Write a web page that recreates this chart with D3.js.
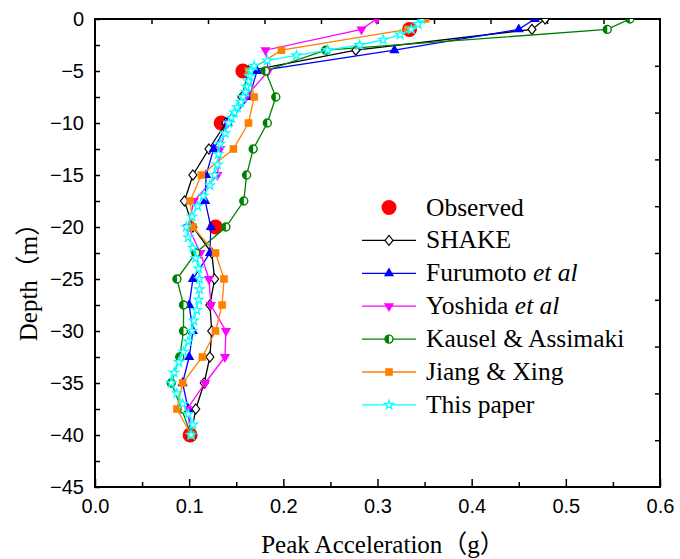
<!DOCTYPE html>
<html><head><meta charset="utf-8">
<script src="https://cdn.jsdelivr.net/npm/d3@7"></script>
<style>body{margin:0;background:#fff}</style>
</head><body><svg id="c" width="680" height="559"></svg>
<script>
// ---- data ----
const stdDepth = [0,-1,-3,-5,-7.5,-10,-12.5,-15,-17.5,-20,-22.5,-25,-27.5,-30,-32.5,-35,-37.5,-40];
const observedDepth = [-1,-5,-10,-20,-40];
const observedAcc = [0.334,0.157,0.134,0.128,0.101];
const shakeAcc    = [0.478,0.464,0.277,0.163,0.156,0.139,0.121,0.104,0.095,0.104,0.124,0.127,0.122,0.124,0.122,0.116,0.107,0.102];
const furumotoAcc = [0.467,0.450,0.318,0.172,0.164,0.141,0.126,0.118,0.117,0.123,0.122,0.104,0.100,0.104,0.100,0.093,0.099,0.102];
const yoshidaAcc  = [0.299,0.283,0.181,0.184,0.160,0.141,0.133,0.130,0.105,0.099,0.112,0.121,0.123,0.139,0.138,0.117,0.098,0.102];
const kauselAcc   = [0.568,0.544,0.245,0.181,0.192,0.183,0.168,0.161,0.158,0.139,0.107,0.087,0.094,0.094,0.090,0.081,0.092,0.102];
const jiangAcc    = [0.351,0.332,0.198,0.163,0.169,0.163,0.147,0.113,0.101,0.104,0.128,0.137,0.135,0.128,0.114,0.093,0.087,0.102];
const paperDepth = [0,-0.5,-1,-1.5,-2,-2.5,-3,-3.5,-4,-4.5,-5,-5.5,-6,-6.5,-7,-7.5,-8,-8.5,-9,-9.5,-10,
  -11,-12,-13,-14,-15,-16,-17,-18,-19,-20,-21,-22,-23,-24,-25,-26,-27,-28,-29,-30,-31,-32,-33,-34,-35,-36,-37,-38,-39,-40];
const paperAcc = [0.347,0.343,0.336,0.324,0.306,0.281,0.247,0.214,0.183,0.169,0.165,0.164,0.163,0.161,0.160,0.157,0.155,0.151,0.148,0.145,0.142,
  0.138,0.133,0.131,0.130,0.127,0.122,0.115,0.109,0.103,0.097,0.099,0.104,0.107,0.110,0.111,0.111,0.110,0.108,0.105,0.103,0.099,0.094,0.089,0.084,0.081,0.087,0.093,0.099,0.104,0.102];
const seriesNames = ["Observed","SHAKE","Furumoto et al","Yoshida et al","Kausel & Assimaki","Jiang & Xing","This paper"];
const seriesColors = ["#ff0000","#000000","#0000ff","#ff00ff","#008000","#ff8000","#00ffff"];
const xTicks = [0,0.1,0.2,0.3,0.4,0.5,0.6];
const yTicks = [0,-5,-10,-15,-20,-25,-30,-35,-40,-45];

// ---- layout ----
const L=95,R=660,T=19,B=487;
const svg=d3.select("#c");
const x=d3.scaleLinear().domain([0,0.6]).range([L,R]);
const y=d3.scaleLinear().domain([0,-45]).range([T,B]);

svg.append("defs").append("clipPath").attr("id","clip").append("rect")
  .attr("x",L).attr("y",T).attr("width",R-L).attr("height",B-T);

const tickFont="'Liberation Sans', Arial, sans-serif";
const serif="'Liberation Serif','Times New Roman','Noto Sans CJK SC',serif";

// bottom axis
const gx=svg.append("g").attr("transform",`translate(0,${B})`)
  .call(d3.axisBottom(x).tickValues(xTicks).tickFormat(d3.format(".1f")).tickSizeInner(-8).tickSizeOuter(0).tickPadding(12));
const gxm=svg.append("g").attr("transform",`translate(0,${B})`)
  .call(d3.axisBottom(x).tickValues(d3.range(0.05,0.6,0.1)).tickFormat("").tickSizeInner(-5).tickSizeOuter(0));
// left axis
const gy=svg.append("g").attr("transform",`translate(${L},0)`)
  .call(d3.axisLeft(y).tickValues(yTicks).tickFormat(d3.format("d")).tickSizeInner(-5).tickSizeOuter(0).tickPadding(11));
const gym=svg.append("g").attr("transform",`translate(${L},0)`)
  .call(d3.axisLeft(y).tickValues(d3.range(-2.5,-45,-5)).tickFormat("").tickSizeInner(-5).tickSizeOuter(0));
// top axis & right axis (10 divisions)
const gt=svg.append("g").attr("transform",`translate(0,${T})`)
  .call(d3.axisTop(x).tickValues(d3.range(1,10).map(i=>i*0.06)).tickFormat("").tickSizeInner(-5).tickSizeOuter(0));
const gr=svg.append("g").attr("transform",`translate(${R},0)`)
  .call(d3.axisRight(y).tickValues(d3.range(1,10).map(i=>-i*4.5)).tickFormat("").tickSizeInner(-5).tickSizeOuter(0));
[gx,gxm,gy,gym,gt,gr].forEach(g=>{
  g.select(".domain").remove();
  g.selectAll(".tick line").attr("stroke","#000").attr("stroke-width",1.5);
  g.selectAll("text").attr("font-family",tickFont).attr("font-size",20).attr("fill","#000");
});
svg.append("rect").attr("x",L).attr("y",T).attr("width",R-L).attr("height",B-T)
  .attr("fill","none").attr("stroke","#000").attr("stroke-width",2);

// axis titles
svg.append("text").attr("x",383).attr("y",553).attr("text-anchor","middle")
  .attr("font-family",serif).attr("font-size",25).text("Peak Acceleration（g）");
svg.append("text").attr("transform","translate(37,276) rotate(-90)").attr("text-anchor","middle")
  .attr("font-family",serif).attr("font-size",25).text("Depth（m）");

// markers
function marker(sel,i,cx,cy){
  const c=seriesColors[i];
  const g=sel.append("g").attr("transform",`translate(${cx},${cy})`);
  if(i===0){ g.append("circle").attr("r",7.5).attr("fill",c); }
  else if(i===1){ g.append("path").attr("d","M0,-5L4,0L0,5L-4,0Z").attr("fill","#fff").attr("stroke",c).attr("stroke-width",1.2); }
  else if(i===2){ g.append("path").attr("d",d3.symbol(d3.symbolTriangle,45)()).attr("fill",c); }
  else if(i===3){ g.append("path").attr("d",d3.symbol(d3.symbolTriangle,45)()).attr("transform","rotate(180)").attr("fill",c); }
  else if(i===4){
    g.append("circle").attr("r",4).attr("fill","#fff").attr("stroke",c).attr("stroke-width",1.4);
    g.append("path").attr("d","M0,-4A4,4 0 0 0 0,4Z").attr("fill",c);
  }
  else if(i===5){ g.append("rect").attr("x",-3.8).attr("y",-3.8).attr("width",7.6).attr("height",7.6).attr("fill",c); }
  else { g.append("path").attr("d",d3.symbol(d3.symbolStar,26)()).attr("fill","#fff").attr("stroke",c).attr("stroke-width",1.2); }
}

const plot=svg.append("g").attr("clip-path","url(#clip)");
const line=d3.line().x(d=>x(d[0])).y(d=>y(d[1]));
const allSeries=[
  [observedAcc,observedDepth],
  [shakeAcc,stdDepth],[furumotoAcc,stdDepth],[yoshidaAcc,stdDepth],
  [kauselAcc,stdDepth],[jiangAcc,stdDepth],[paperAcc,paperDepth]
];
allSeries.forEach(([acc,dep],i)=>{
  const pts=acc.map((a,k)=>[a,dep[k]]);
  if(i>0) plot.append("path").datum(pts).attr("d",line).attr("fill","none")
    .attr("stroke",seriesColors[i]).attr("stroke-width",1.3);
  pts.forEach(p=>marker(plot,i,x(p[0]),y(p[1])));
});

// legend
const lg=svg.append("g");
seriesNames.forEach((n,i)=>{
  const yy=207.5+i*32.9;
  if(i>0) lg.append("line").attr("x1",362).attr("x2",416).attr("y1",yy).attr("y2",yy)
    .attr("stroke",seriesColors[i]).attr("stroke-width",1.3);
  marker(lg,i,389,yy);
  const t=lg.append("text").attr("x",426).attr("y",yy+8).attr("font-family",serif).attr("font-size",25.5);
  if(n.endsWith(" et al")){
    t.append("tspan").text(n.replace(" et al"," "));
    t.append("tspan").attr("font-style","italic").text("et al");
  } else t.text(n);
});
</script></body></html>
